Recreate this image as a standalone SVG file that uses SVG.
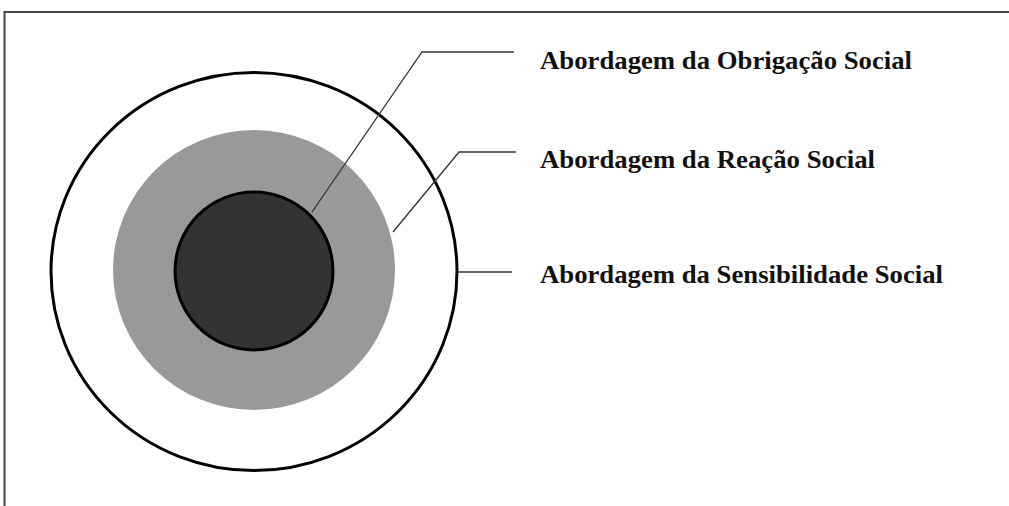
<svg xmlns="http://www.w3.org/2000/svg" width="1009" height="506" viewBox="0 0 1009 506">
<style>
.frame{fill:none;stroke:#444;stroke-width:2}
.lead{fill:none;stroke:#333;stroke-width:1.3}
.lbl{font-family:"Liberation Serif","Times New Roman",serif;font-weight:bold;font-size:25px;fill:#111}
</style>
<rect width="1009" height="506" fill="#fff"/>
<path class="frame" d="M4.5,506 V12 H1009"/>
<g id="outer">
<ellipse cx="254" cy="271.5" rx="203" ry="199" fill="#fff" stroke="#000" stroke-width="3"/>
</g>
<g id="middle">
<ellipse cx="254" cy="270" rx="141" ry="140" fill="#999"/>
</g>
<g id="inner">
<circle cx="254" cy="271" r="79" fill="#333" stroke="#000" stroke-width="3"/>
</g>
<g id="connectors">
<polyline class="lead" points="312,212 422,52 514,52"/>
<polyline class="lead" points="393,232 459,152 516,152"/>
<polyline class="lead" points="457,272 512,272"/>
</g>
<g id="label-obrigacao"><text class="lbl" x="540" y="69" textLength="372" lengthAdjust="spacingAndGlyphs">Abordagem da Obrigação Social</text></g>
<g id="label-reacao"><text class="lbl" x="540" y="168" textLength="335" lengthAdjust="spacingAndGlyphs">Abordagem da Reação Social</text></g>
<g id="label-sensibilidade"><text class="lbl" x="540" y="283" textLength="403" lengthAdjust="spacingAndGlyphs">Abordagem da Sensibilidade Social</text></g>
</svg>
